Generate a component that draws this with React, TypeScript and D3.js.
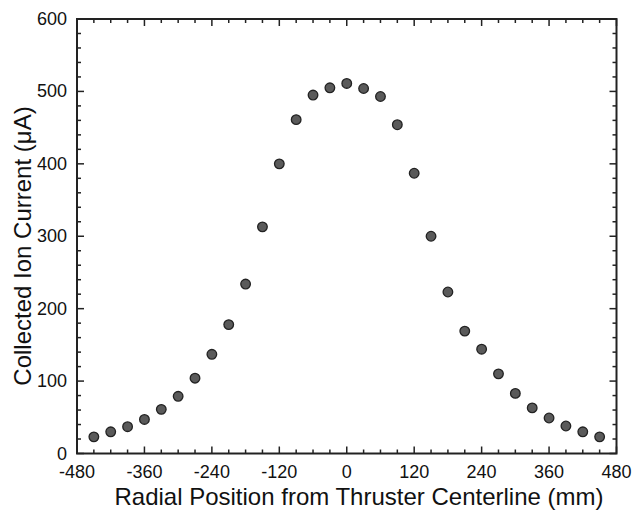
import React, { useEffect, useRef } from "react";
import * as d3 from "d3";

const positions = [-450, -420, -390, -360, -330, -300, -270, -240, -210, -180, -150, -120, -90, -60, -30, 0, 30, 60, 90, 120, 150, 180, 210, 240, 270, 300, 330, 360, 390, 420, 450];
const currents = [23, 30, 37, 47, 61, 79, 104, 137, 178, 234, 313, 400, 461, 495, 505, 511, 504, 493, 454, 387, 300, 223, 169, 144, 110, 83, 63, 49, 38, 30, 23];
const xTicks = [-480, -360, -240, -120, 0, 120, 240, 360, 480];
const yTicks = [0, 100, 200, 300, 400, 500, 600];
const xTitle = "Radial Position from Thruster Centerline (mm)";
const yTitle = "Collected Ion Current (μA)";

const W = 632, H = 513;
const L = 77, R = 616.5, T = 19, B = 453.5;

export default function App() {
  const ref = useRef<SVGSVGElement>(null);
  useEffect(() => {
    const svg = d3.select(ref.current);
    svg.selectAll("*").remove();
    const x = d3.scaleLinear().domain([-480, 480]).range([L, R]);
    const y = d3.scaleLinear().domain([0, 600]).range([B, T]);
    const font = "'Liberation Sans', Arial, sans-serif";
    const g = svg.append("g");

    const minorX = d3.range(-480, 481, 30);
    const minorY = d3.range(0, 601, 20);
    const tickColor = "#222";
    minorX.forEach((v) => {
      const major = v % 120 === 0;
      const len = major ? 7 : 4;
      g.append("line").attr("x1", x(v)).attr("x2", x(v)).attr("y1", B).attr("y2", B - len).attr("stroke", tickColor).attr("stroke-width", 1.5);
      g.append("line").attr("x1", x(v)).attr("x2", x(v)).attr("y1", T).attr("y2", T + len).attr("stroke", tickColor).attr("stroke-width", 1.5);
    });
    minorY.forEach((v) => {
      const major = v % 100 === 0;
      const len = major ? 7 : 4;
      g.append("line").attr("y1", y(v)).attr("y2", y(v)).attr("x1", L).attr("x2", L + len).attr("stroke", tickColor).attr("stroke-width", 1.5);
      g.append("line").attr("y1", y(v)).attr("y2", y(v)).attr("x1", R).attr("x2", R - len).attr("stroke", tickColor).attr("stroke-width", 1.5);
    });
    g.append("rect").attr("x", L).attr("y", T).attr("width", R - L).attr("height", B - T)
      .attr("fill", "none").attr("stroke", "#222").attr("stroke-width", 2);

    xTicks.forEach((v) => {
      g.append("text").attr("x", x(v)).attr("y", B + 24.5).attr("text-anchor", "middle")
        .attr("font-family", font).attr("font-size", 18).attr("fill", "#111").text(String(v));
    });
    yTicks.forEach((v) => {
      g.append("text").attr("x", L - 10).attr("y", y(v) + 6).attr("text-anchor", "end")
        .attr("font-family", font).attr("font-size", 18).attr("fill", "#111").text(String(v));
    });

    g.append("text").attr("x", 359).attr("y", 505).attr("text-anchor", "middle")
      .attr("font-family", font).attr("font-size", 24).attr("fill", "#111").text(xTitle);
    g.append("text").attr("transform", `translate(31, 246) rotate(-90)`).attr("text-anchor", "middle")
      .attr("font-family", font).attr("font-size", 24).attr("fill", "#111").text(yTitle);

    g.selectAll("circle.pt").data(positions.map((p, i) => [p, currents[i]]))
      .join("circle").attr("class", "pt")
      .attr("cx", (d) => x(d[0])).attr("cy", (d) => y(d[1])).attr("r", 4.8)
      .attr("fill", "#5a5a5a").attr("stroke", "#222").attr("stroke-width", 1.3);
  }, []);
  return <svg ref={ref} width={W} height={H} style={{ display: "block", position: "absolute", left: 0, top: 0 }} />;
}
